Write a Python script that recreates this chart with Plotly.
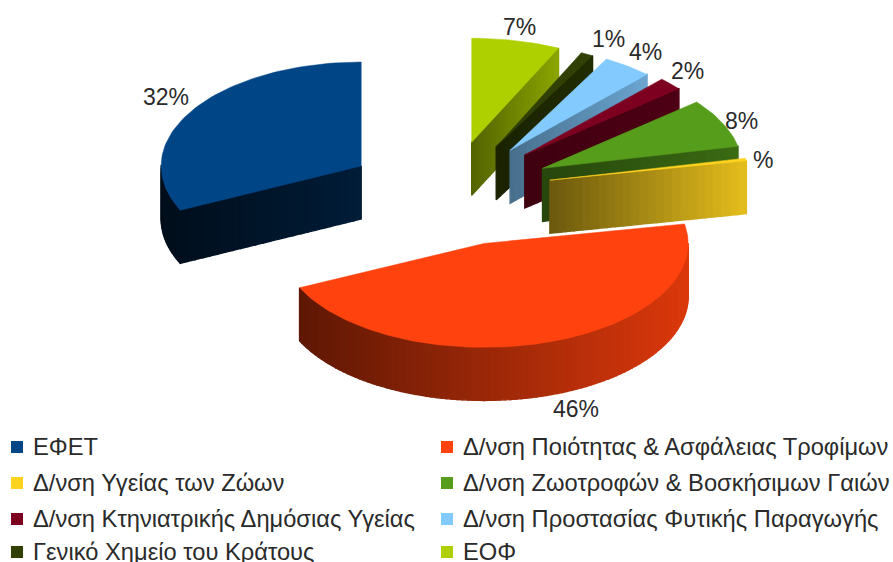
import math
import plotly.graph_objects as go

categories = ["ΕΦΕΤ", "Δ/νση Ποιότητας & Ασφάλειας Τροφίμων", "Δ/νση Υγείας των Ζώων",
              "Δ/νση Ζωοτροφών & Βοσκήσιμων Γαιών", "Δ/νση Κτηνιατρικής Δημόσιας Υγείας",
              "Δ/νση Προστασίας Φυτικής Παραγωγής", "Γενικό Χημείο του Κράτους", "ΕΟΦ"]
values = [32, 46, 0.4, 7.6, 2, 4, 1, 7]
value_labels = ["32%", "46%", "%", "8%", "2%", "4%", "1%", "7%"]
colors = ["#004586", "#ff420e", "#ffd320", "#579d1c", "#7e0021", "#83caff", "#314004", "#aecf00"]
# wall shading (left end, right end) as a fraction of the slice colour
shades = [(0.20, 0.42), (0.37, 0.86), (0.42, 0.90), (0.45, 0.68), (0.50, 0.62),
          (0.55, 0.82), (0.55, 0.70), (0.48, 0.80)]
label_xy = [(166, 97), (576, 409), (763, 160), (741, 121), (687, 71), (645, 52), (608, 39), (519, 27)]
draw_order = [0, 7, 6, 5, 4, 3, 2, 1]
# small per-slice corrections for the perspective of the original
nudge_x = [0, 3, -1, 0, 0, 0, 0, 0]
nudge_y = [3, 0, -1, 0, 0, 2, 3, 3]
width_scale = [1, 1.02, 1, 1, 1, 1, 1, 1.02]

CX, CY, A, B, EXPLODE, H = 449, 192, 200, 104, 0.52, 53
total = sum(values)


def shade(c, f):
    r, g, b = (int(c[i:i + 2], 16) for i in (1, 3, 5))
    return f"rgb({int(r * f)},{int(g * f)},{int(b * f)})"


def pt(phi, apex, r=1.0, ws=1.0):
    p = math.radians(phi)
    return apex[0] - A * ws * r * math.sin(p), apex[1] - B * r * math.cos(p)


def poly(fig, xs, ys, color, lw=1.4):
    fig.add_trace(go.Scatter(x=xs + xs[:1], y=ys + ys[:1], mode="lines", fill="toself", fillcolor=color,
                             line=dict(color=color, width=lw), hoverinfo="skip", showlegend=False))


fig = go.Figure()
slices = []
acc = 0
for v in values:
    slices.append((acc / total * 360, (acc + v) / total * 360))
    acc += v

for i in draw_order:
    s, e = slices[i]
    m = (s + e) / 2
    ax, ay = pt(m, (CX, CY), EXPLODE)
    apex = (ax + nudge_x[i], ay + nudge_y[i])
    ws = width_scale[i]
    col = colors[i]
    lo, hi = shades[i]
    arc = [s + (e - s) * k / max(2, int((e - s) / 1.5)) for k in range(max(2, int((e - s) / 1.5)) + 1)]
    xs_all = [pt(a, apex, ws=ws)[0] for a in arc] + [apex[0]]
    xmin, xmax = min(xs_all), max(xs_all)

    def f(x):
        t = (x - xmin) / max(1, xmax - xmin)
        return lo + (hi - lo) * t

    # straight cut faces turned to the viewer
    for phi, vis in ((s, math.sin(math.radians(s)) < -1e-6), (e, math.sin(math.radians(e)) > 1e-6)):
        if vis:
            tip = pt(phi, apex, ws=ws)
            n = 24
            for k in range(n):
                t0, t1 = k / n, (k + 1) / n
                x0 = apex[0] + (tip[0] - apex[0]) * t0
                y0 = apex[1] + (tip[1] - apex[1]) * t0
                x1 = apex[0] + (tip[0] - apex[0]) * t1
                y1 = apex[1] + (tip[1] - apex[1]) * t1
                poly(fig, [x0, x1, x1, x0], [y0, y1, y1 + H, y0 + H], shade(col, f((x0 + x1) / 2)))
    # curved outer wall
    for a0, a1 in zip(arc[:-1], arc[1:]):
        if 90 <= (a0 + a1) / 2 <= 270:
            x0, y0 = pt(a0, apex, ws=ws)
            x1, y1 = pt(a1, apex, ws=ws)
            poly(fig, [x0, x1, x1, x0], [y0, y1, y1 + H, y0 + H], shade(col, f((x0 + x1) / 2)))
    # top face
    top = [pt(a, apex, ws=ws) for a in arc] + [apex]
    poly(fig, [p[0] for p in top], [p[1] for p in top], col, lw=0.5)

annotations = [dict(x=x, y=y, text=t, showarrow=False, xref="x", yref="y",
                    font=dict(family="Liberation Sans", size=23, color="#2a2a2a"))
               for (x, y), t in zip(label_xy, value_labels)]

# legend laid out in two columns, four rows
legend_x = [17, 447]
legend_y = [447, 483, 519, 552]
for i, name in enumerate(categories):
    lx, ly = legend_x[i % 2], legend_y[i // 2]
    fig.add_trace(go.Scatter(x=[lx], y=[ly], mode="markers", name=name, showlegend=False, hoverinfo="name",
                             marker=dict(symbol="square", size=12, color=colors[i])))
    annotations.append(dict(x=lx + 14, y=ly, text=name, showarrow=False, xref="x", yref="y", xanchor="left",
                            font=dict(family="Liberation Sans", size=23.7, color="#2a2a2a")))

fig.update_layout(width=893, height=562, margin=dict(l=0, r=0, t=0, b=0), paper_bgcolor="white",
                  plot_bgcolor="white", showlegend=False, annotations=annotations,
                  xaxis=dict(range=[0, 893], visible=False, fixedrange=True),
                  yaxis=dict(range=[562, 0], visible=False, fixedrange=True))
fig.write_html("out.html", config={"displayModeBar": False},
               post_script="document.body.style.margin='0';document.body.style.overflow='hidden';")
